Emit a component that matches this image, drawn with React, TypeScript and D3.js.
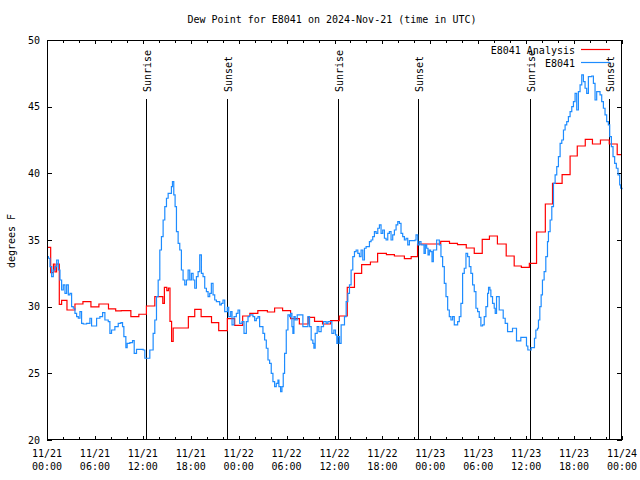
import React from "react";
import * as d3 from "d3";

// Hours since 2024-11-21 00:00 UTC
const blueHours = [
  0, 0.17, 0.375, 0.58, 0.79, 1.0, 1.21, 1.42, 1.625, 1.83, 2.04, 2.25, 2.46, 2.67, 2.875, 3.08, 3.29, 3.5, 3.71, 3.92,
  4.125, 4.33, 4.54, 4.96, 5.375, 5.58, 6.0, 6.21, 6.625, 6.96, 7.25, 7.67, 7.875, 8.08, 8.5, 8.92, 9.25, 9.46, 9.625, 9.875,
  10.04, 10.375, 10.71, 10.92, 11.21, 11.625, 12.04, 12.25, 12.54, 12.875, 13.29, 13.5, 13.71, 13.92, 14.125, 14.33, 14.54, 14.75, 14.96, 15.17,
  15.375, 15.58, 15.71, 15.875, 16.04, 16.21, 16.42, 16.625, 16.83, 17.04, 17.25, 17.46, 17.67, 17.875, 18.08, 18.29, 18.5, 18.71, 18.92, 19.125,
  19.33, 19.54, 19.75, 19.96, 20.17, 20.375, 20.58, 20.79, 21.0, 21.21, 21.625, 21.83, 22.04,
  22.25, 22.58, 22.75, 23.0, 23.17, 23.42, 23.71, 23.92, 24.125, 24.42, 24.67, 24.96, 25.17, 25.375, 25.79, 26.0, 26.21, 26.42, 26.625, 26.83,
  27.04, 27.25, 27.46, 27.67, 27.875, 28.08, 28.29, 28.5, 28.71, 28.92, 29.04, 29.25, 29.42, 29.58, 29.75, 29.96, 30.17, 30.375, 30.5, 30.67,
  30.79, 30.92, 31.08, 31.33, 31.92, 32.04, 32.46, 32.67, 32.875, 33.08, 33.29, 33.42, 33.58, 33.83, 34.04, 34.33, 34.625, 34.96, 35.17, 35.5,
  35.67, 35.92, 36.125, 36.29, 36.42, 36.625, 36.83, 37.04, 37.25, 37.46, 37.67, 37.875, 38.08, 38.29, 38.5, 38.71, 38.92, 39.125, 39.33, 39.54,
  39.75, 39.96, 40.375, 40.58, 40.79, 41.0, 41.21, 41.42, 41.625, 41.83, 42.04, 42.25, 42.46, 42.67, 42.875, 43.08, 43.29, 43.5, 43.71, 43.92,
  44.125, 44.33, 44.54, 44.75, 44.96, 45.17, 45.375, 46.08, 46.21, 46.42,
  46.625, 46.83, 47.21, 47.375, 47.54, 47.71, 47.875, 48.04, 48.21, 48.375, 48.625, 48.79, 49.0, 49.125, 49.33, 49.54, 49.75, 49.96, 50.17, 50.375,
  50.58, 50.79, 51.0, 51.42, 51.625, 51.83, 52.04, 52.25, 52.46, 52.67, 52.875, 53.08, 53.29, 53.5, 53.71, 53.92, 54.125, 54.33, 54.54, 54.75,
  54.96, 55.17, 55.29, 55.46, 55.58, 55.79, 56.0, 56.125, 56.29, 56.46, 56.625, 56.96, 57.125, 57.375, 57.67, 58.29, 58.625, 58.79, 59.125, 59.33,
  59.875, 60.04, 60.21, 60.625, 60.875, 61.04, 61.21, 61.42, 61.54, 61.71, 61.875, 62.04, 62.25, 62.46, 62.67, 62.79,
  63.0, 63.21, 63.42, 63.625, 63.83, 64.04, 64.25, 64.46, 64.67, 64.875, 65.08, 65.29, 65.5, 65.71, 65.92, 66.125, 66.33, 66.54, 66.75, 66.96,
  67.17, 67.375, 67.58, 67.79, 68.21, 68.42, 68.625, 68.83, 69.04, 69.25, 69.46, 69.67, 69.875, 70.08, 70.29, 70.46, 70.67, 70.875, 71.08, 71.29,
  71.5, 71.71, 71.83, 72.0,
];
const blueValues = [
  33.75, 33.63, 33.0, 32.25, 32.75, 33.0, 33.5, 32.75, 32.0, 31.25, 31.63, 31.0, 31.63, 30.88, 31.0, 30.0, 29.88, 29.5, 29.25, 29.13,
  29.63, 28.75, 28.7, 28.75, 29.13, 28.55, 28.55, 29.13, 29.25, 29.55, 29.0, 28.88, 28.0, 28.25, 28.5, 28.75, 28.8, 28.5, 27.75, 26.93,
  27.25, 27.3, 27.45, 26.5, 26.8, 26.8, 26.75, 26.13, 26.13, 26.75, 28.0, 29.0, 30.75, 32.0, 34.25, 35.25, 36.5, 37.5, 38.13, 38.5,
  38.5, 39.0, 39.38, 38.38, 37.5, 35.63, 34.75, 34.25, 32.75, 32.0, 31.63, 32.0, 32.75, 32.0, 32.5, 32.0, 31.38, 32.25, 32.63, 33.88,
  32.5, 32.25, 31.38, 31.13, 30.75, 31.0, 31.75, 30.88, 30.5, 30.38, 30.13, 30.25, 30.5,
  29.63, 29.95, 29.25, 29.63, 28.63, 29.25, 29.5, 29.75, 28.75, 28.88, 28.0, 28.88, 29.25, 29.38, 29.25, 28.95, 29.13, 29.25, 28.5, 28.5,
  28.0, 27.5, 26.88, 26.0, 25.75, 25.0, 24.38, 24.0, 24.25, 24.5, 24.0, 23.63, 24.0, 25.0, 26.5, 28.25, 29.38, 29.25, 29.5, 28.5,
  28.0, 29.25, 29.0, 29.38, 29.38, 28.5, 28.5, 29.25, 28.5, 27.5, 27.25, 26.88, 28.0, 28.5, 28.13, 28.5, 28.88, 28.75, 28.88, 28.88,
  28.0, 28.25, 27.88, 27.25, 27.75, 27.25, 28.63, 28.63, 29.25, 30.38, 31.0, 31.63, 32.75, 33.75, 34.13, 34.25, 34.0, 33.75, 34.25, 33.5,
  34.38, 34.5, 34.88, 35.0, 35.25, 35.63, 35.5, 35.88, 36.13, 35.5, 35.75, 35.13, 35.0, 35.5, 35.63, 35.0, 35.38, 35.75, 36.13, 36.38,
  36.25, 35.5, 35.25, 35.0, 35.13, 34.63, 34.95, 35.0, 35.38, 34.63,
  34.88, 34.63, 34.0, 34.63, 34.38, 33.88, 34.25, 34.13, 33.38, 34.25, 34.25, 35.0, 35.0, 34.63, 33.75, 33.0, 31.75, 30.75, 29.75, 29.25,
  29.0, 29.25, 28.63, 28.88, 29.25, 30.25, 32.5, 32.88, 34.0, 33.75, 33.0, 32.5, 31.63, 31.13, 29.88, 29.63, 29.2, 28.55, 28.63, 29.25,
  30.0, 31.0, 31.45, 31.25, 30.75, 30.25, 29.88, 29.5, 30.75, 30.75, 29.75, 29.75, 29.13, 28.75, 28.13, 28.38, 28.38, 27.43, 27.43, 27.7,
  27.7, 27.05, 26.75, 26.93, 26.93, 27.63, 28.25, 28.38, 29.0, 30.0, 30.88, 32.0, 32.63, 33.75, 34.88, 35.63,
  36.5, 37.5, 39.25, 39.88, 40.5, 41.25, 42.25, 42.5, 43.25, 43.63, 43.88, 44.25, 44.63, 45.0, 45.38, 46.0, 44.75, 46.13, 46.63, 47.38,
  46.88, 46.38, 46.0, 47.25, 47.3, 46.75, 45.5, 46.13, 46.13, 45.88, 45.38, 44.88, 44.38, 43.88, 43.63, 42.75, 42.0, 41.25, 40.75, 40.38,
  39.88, 39.13, 38.88, 38.8,
];

const redHours = [
  0, 0.46, 0.8, 1.0, 1.2, 1.54, 1.83, 2.5, 3.5, 4.5, 5.5, 6.5, 7.7, 8.6, 9.3, 10.5, 11.5, 12.45, 13.5, 14.5,
  14.7, 15.0, 15.2, 15.4, 15.6, 15.8, 17.7, 18.5, 19.3, 20.6, 21.5, 22.58, 23.5, 24.5, 25.4, 26.4, 27.6, 28.5, 29.5, 30.5,
  31.6, 32.7, 33.5, 34.5, 35.5, 36.6, 37.6, 38.5, 39.4, 40.5, 41.4, 42.5, 43.5, 44.75, 45.6, 46.4, 49.3, 50.4, 51.4, 52.5,
  53.5, 54.5, 55.4, 56.4, 57.5, 58.5, 59.4, 60.4, 61.3, 62.4, 63.3, 64.5, 65.5, 66.4, 67.4, 68.3, 69.3, 70.4, 71.4, 72.0,
];
const redValues = [
  34.45, 32.55, 33.2, 32.6, 33.2, 30.17, 30.47, 29.75, 30.2, 30.38, 29.98, 30.2, 29.83, 29.68, 29.7, 29.25, 29.43, 30.05, 30.75, 30.25,
  31.45, 31.2, 31.4, 28.9, 27.4, 28.4, 29.25, 29.8, 29.25, 28.8, 28.2, 29.1, 28.6, 29.3, 29.5, 29.7, 29.6, 29.9, 29.7, 29.1,
  28.7, 29.2, 28.9, 28.7, 28.95, 29.3, 31.45, 32.5, 33.15, 33.35, 34.0, 33.9, 33.8, 33.6, 33.75, 34.7, 34.9, 34.75, 34.65, 34.4,
  34.0, 35.05, 35.3, 34.7, 33.8, 33.05, 32.95, 33.25, 35.6, 37.7, 39.25, 39.9, 41.3, 42.05, 42.55, 42.2, 42.5, 42.2, 41.4, 41.4,
];

const sunHours = [12.38, 22.48, 36.42, 46.42, 60.42, 70.42];
const sunLabels = ["Sunrise", "Sunset", "Sunrise", "Sunset", "Sunrise", "Sunset"];

const xTickHours = [0, 6, 12, 18, 24, 30, 36, 42, 48, 54, 60, 66, 72];
const xTickDates = ["11/21", "11/21", "11/21", "11/21", "11/22", "11/22", "11/22", "11/22", "11/23", "11/23", "11/23", "11/23", "11/24"];
const xTickTimes = ["00:00", "06:00", "12:00", "18:00", "00:00", "06:00", "12:00", "18:00", "00:00", "06:00", "12:00", "18:00", "00:00"];
const yTicks = [20, 25, 30, 35, 40, 45, 50];

const seriesNames = ["E8041 Analysis", "E8041"];
const seriesColors = ["#ff0000", "#1e8cff"];

const W = 640, H = 480;
const L = 47, R = 622, T = 40, B = 440;
const FONT = "'DejaVu Sans Mono', 'Liberation Mono', monospace";

export default function App() {
  const x = d3.scaleLinear().domain([0, 72]).range([L, R]);
  const y = d3.scaleLinear().domain([20, 50]).range([B, T]);

  const line = d3
    .line<[number, number]>()
    .x((d) => x(d[0]))
    .y((d) => y(d[1]))
    .curve(d3.curveStepAfter);

  const redPts = redHours.map((h, i) => [h, redValues[i]] as [number, number]);
  const bluePts = blueHours.map((h, i) => [h, blueValues[i]] as [number, number]);

  const minor = d3.range(0, 73, 2).filter((h) => h % 6 !== 0);

  return (
    <svg width={W} height={H} style={{ position: "absolute", left: 0, top: 0, background: "#fff" }} fontFamily={FONT}>
      <rect x={0} y={0} width={W} height={H} fill="#fff" />
      <text x={332} y={23} fontSize={10} textAnchor="middle" fill="#000">
        Dew Point for E8041 on 2024-Nov-21 (time in UTC)
      </text>
      <text transform={`translate(11,241) rotate(-90)`} fontSize={10} textAnchor="middle" dominantBaseline="central" fill="#000">
        degrees F
      </text>

      {/* y ticks */}
      {yTicks.map((v) => (
        <g key={"y" + v}>
          <line x1={L} x2={L + 5} y1={Math.round(y(v)) + 0.5} y2={Math.round(y(v)) + 0.5} stroke="#000" />
          <line x1={R - 5} x2={R} y1={Math.round(y(v)) + 0.5} y2={Math.round(y(v)) + 0.5} stroke="#000" />
          <text x={40} y={y(v)} fontSize={10} textAnchor="end" dominantBaseline="central" fill="#000">
            {v}
          </text>
        </g>
      ))}

      {/* x ticks */}
      {xTickHours.map((h, i) => (
        <g key={"x" + h}>
          <line x1={Math.round(x(h)) + 0.5} x2={Math.round(x(h)) + 0.5} y1={B} y2={B - 4} stroke="#000" />
          <line x1={Math.round(x(h)) + 0.5} x2={Math.round(x(h)) + 0.5} y1={T} y2={T + 4} stroke="#000" />
          <text x={x(h)} y={457} fontSize={10} textAnchor="middle" fill="#000">
            {xTickDates[i]}
          </text>
          <text x={x(h)} y={470} fontSize={10} textAnchor="middle" fill="#000">
            {xTickTimes[i]}
          </text>
        </g>
      ))}
      {minor.map((h) => (
        <g key={"m" + h}>
          <line x1={Math.round(x(h)) + 0.5} x2={Math.round(x(h)) + 0.5} y1={B} y2={B - 3} stroke="#000" />
          <line x1={Math.round(x(h)) + 0.5} x2={Math.round(x(h)) + 0.5} y1={T} y2={T + 3} stroke="#000" />
        </g>
      ))}

      {/* sunrise / sunset */}
      {sunHours.map((h, i) => {
        const sx = Math.round(x(h)) + 0.5;
        return (
          <g key={"s" + i}>
            <line x1={sx} x2={sx} y1={99} y2={B} stroke="#000" strokeWidth={1} />
            <text transform={`translate(${sx + 4.5},92) rotate(-90)`} fontSize={10} textAnchor="start" fill="#000">
              {sunLabels[i]}
            </text>
          </g>
        );
      })}

      <path d={line(redPts) || ""} fill="none" stroke={seriesColors[0]} strokeWidth={1.2} />
      <path d={line(bluePts) || ""} fill="none" stroke={seriesColors[1]} strokeWidth={1.2} />

      {/* legend */}
      {seriesNames.map((n, i) => (
        <g key={"l" + i}>
          <text x={575} y={50 + i * 13} fontSize={10} textAnchor="end" dominantBaseline="central" fill="#000">
            {n}
          </text>
          <line x1={581} x2={610} y1={49.5 + i * 13} y2={49.5 + i * 13} stroke={seriesColors[i]} strokeWidth={1.2} />
        </g>
      ))}

      <rect x={L + 0.5} y={T + 0.5} width={R - L - 1} height={B - T - 1} fill="none" stroke="#000" strokeWidth={1} />
    </svg>
  );
}
